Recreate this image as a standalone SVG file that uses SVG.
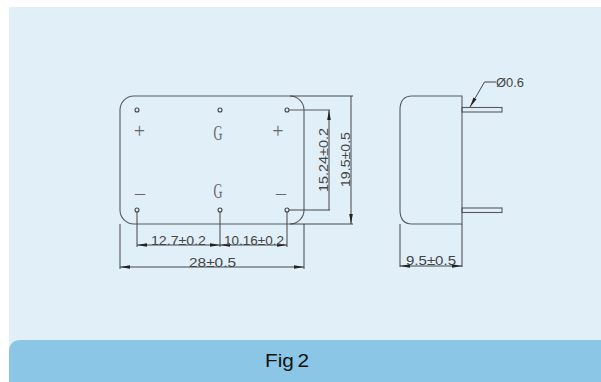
<svg xmlns="http://www.w3.org/2000/svg" width="601" height="382" viewBox="0 0 601 382">
<style>
.l{fill:none;stroke:#555a5e;stroke-width:1.1}
.d{fill:none;stroke:#333;stroke-width:.9}
.h{fill:none;stroke:#444;stroke-width:1.1}
.t{font-family:"Liberation Sans",Arial,sans-serif;font-size:13px;fill:#444}
.s{font-family:"Liberation Serif","Times New Roman",serif;font-size:20px;fill:#666;text-anchor:middle}
</style>
<defs>
<marker id="ar" viewBox="0 0 10 6" refX="10" refY="3" markerWidth="10" markerHeight="6" orient="auto-start-reverse" markerUnits="userSpaceOnUse"><path d="M0 1.200L10 3L0 4.800Z" fill="#222"/></marker>
</defs>
<rect width="601" height="382" fill="#fff"/>
<rect x="9" y="7" width="592" height="375" fill="#e0eff8"/>
<path d="M9 382V352Q9 340 21 340H601V382Z" fill="#8bc6e6"/>
<text x="265" y="367" font-family="Liberation Sans,Arial,sans-serif" font-size="19" fill="#111" textLength="44" lengthAdjust="spacingAndGlyphs" word-spacing="-2">Fig 2</text>
<g id="front-body"><rect class="l" x="120" y="96" width="184" height="128" rx="14"/></g>
<g id="holes">
<circle class="h" cx="137" cy="110" r="2"/><circle class="h" cx="220" cy="110" r="2"/><circle class="h" cx="287" cy="110" r="2"/>
<circle class="h" cx="137" cy="210" r="2"/><circle class="h" cx="220" cy="210" r="2"/><circle class="h" cx="287" cy="210" r="2"/>
</g>
<g id="pin-labels">
<text class="s" x="139.500" y="138">+</text>
<text class="s" x="218" y="140" textLength="9" lengthAdjust="spacingAndGlyphs">G</text>
<text class="s" x="278" y="138">+</text>
<text class="s" x="140" y="200">–</text>
<text class="s" x="218" y="197.500" textLength="9" lengthAdjust="spacingAndGlyphs">G</text>
<text class="s" x="281" y="200">–</text>
</g>
<g id="side-body">
<path class="l" d="M462 96H412Q400 96 400 110V210Q400 224 412 224H462Z"/>
<rect class="l" x="462" y="107.500" width="40" height="4.500"/>
<rect class="l" x="462" y="208" width="40" height="4.500"/>
</g>
<g id="connectors">
<path class="l" d="M289 110H330"/>
<path class="d" d="M289 210H330M290 96H353M290 224H353"/>
<path class="d" d="M329 110V210M351 96V224" marker-start="url(#ar)" marker-end="url(#ar)"/>
<path class="d" d="M137 212V247M220 212V247M287 212V247M120 224V269M304 224V269"/>
<path class="d" d="M137 245H220" marker-start="url(#ar)" marker-end="url(#ar)"/>
<path class="d" d="M220 245H287" marker-start="url(#ar)" marker-end="url(#ar)"/>
<path class="d" d="M120 267H304" marker-start="url(#ar)" marker-end="url(#ar)"/>
<path class="d" d="M400 224V267M462 224V267"/>
<path class="d" d="M400 266H462" marker-start="url(#ar)" marker-end="url(#ar)"/>
<path class="d" d="M496 82H484.500L470 107" marker-end="url(#ar)"/>
</g>
<g id="dimension-labels">
<text class="t" x="151" y="244.500" textLength="55" lengthAdjust="spacingAndGlyphs">12.7±0.2</text>
<text class="t" x="224" y="244.500" textLength="60" lengthAdjust="spacingAndGlyphs">10.16±0.2</text>
<text class="t" x="189" y="266.500" textLength="47" lengthAdjust="spacingAndGlyphs">28±0.5</text>
<text class="t" x="406" y="265" textLength="50" lengthAdjust="spacingAndGlyphs">9.5±0.5</text>
<text class="t" x="496" y="87" textLength="28" lengthAdjust="spacingAndGlyphs">Ø0.6</text>
<text class="t" transform="translate(328 192) rotate(-90)" textLength="64" lengthAdjust="spacingAndGlyphs">15.24±0.2</text>
<text class="t" transform="translate(350 187) rotate(-90)" textLength="55" lengthAdjust="spacingAndGlyphs">19.5±0.5</text>
</g>
</svg>
